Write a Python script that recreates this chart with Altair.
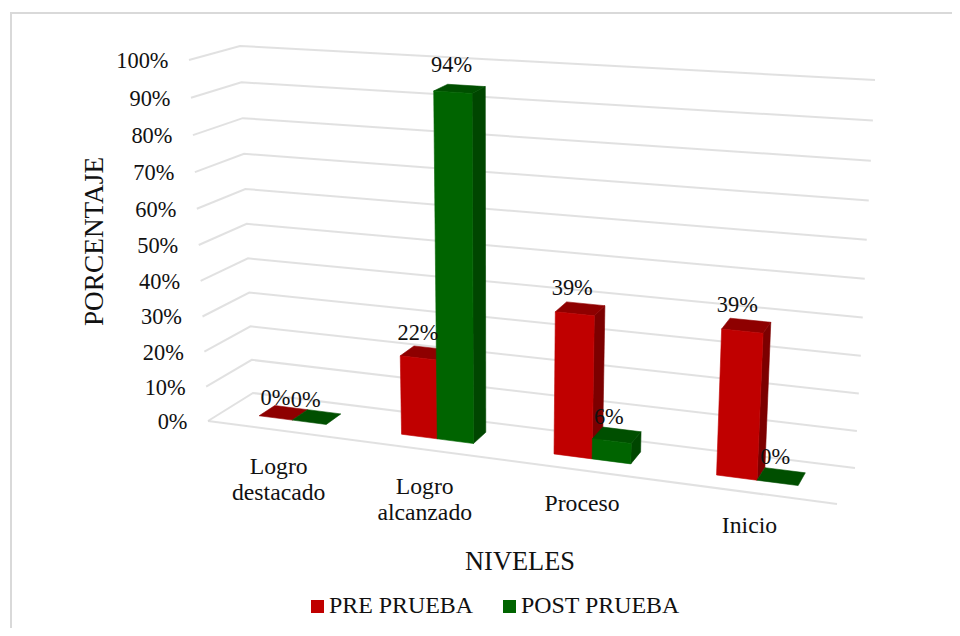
import altair as alt
import pandas as pd

# ---- data ----
CATEGORIES = [["Logro", "destacado"], ["Logro", "alcanzado"], ["Proceso"], ["Inicio"]]
PRE_VALUES = [0, 22.2, 38.9, 38.9]
POST_VALUES = [0, 94.4, 5.6, 0]
PRE_LABELS = ["0%", "22%", "39%", "39%"]
POST_LABELS = ["0%", "94%", "6%", "0%"]
TICKS = [0, 10, 20, 30, 40, 50, 60, 70, 80, 90, 100]
SERIES = ["PRE PRUEBA", "POST PRUEBA"]
PRE_COLORS = {"front": "#C00000", "top": "#8E0000", "side": "#7C0000"}
POST_COLORS = {"front": "#006400", "top": "#004F00", "side": "#004600"}
GRID = "#D9D9D9"
FONT = "Liberation Serif"

# small shifts of the value labels, as placed in the picture
PRE_NUDGE = [(-1, 4), (0, -1), (-1, -2), (-2, -2)]
POST_NUDGE = [(-4, 2), (-1, -5), (-1, 1), (1, -1)]

# ---- the 3-D box of the chart, as it is projected on the page ----
FLOOR = {"fl": (208, 421), "bl": (253, 393), "br": (855, 468), "fr": (837, 504)}
RISE = {"fl": (-19, -361), "bl": (-13, -347), "br": (20, -388), "fr": (22, -399)}
BAR_D0, BAR_D1 = 0.35, 0.71
BAR_W = 0.24


def mix(a, b, k):
    return (a[0] + (b[0] - a[0]) * k, a[1] + (b[1] - a[1]) * k)


def corner(tbl, u, d):
    return mix(mix(tbl["fl"], tbl["fr"], u), mix(tbl["bl"], tbl["br"], u), d)


def along(t):
    # category position (0..4) to share of the floor, wider to the right
    return t * (134 + 5 * t) / 616


def project(t, d, v):
    u = along(t)
    p = corner(FLOOR, u, d)
    r = corner(RISE, u, d)
    k = v / 100
    h = k * (0.95 + 0.05 * k)
    return p[0] + r[0] * h, p[1] + r[1] * h


# ---- grid ----
grid_rows = []
for v in TICKS:
    pts = [(0, 0, v), (0, 1, v), (4, 1, v)]
    for i, (t, d, val) in enumerate(pts):
        x, y = project(t, d, val)
        grid_rows.append({"id": f"g{v}", "i": i, "x": x, "y": y})
for i, t in enumerate([0, 4]):
    x, y = project(t, 0, 0)
    grid_rows.append({"id": "front", "i": i, "x": x, "y": y})
grid_df = pd.DataFrame(grid_rows)

# ---- bars ----
poly_rows = []
pid = 0


def add_face(points, color):
    global pid
    pid += 1
    closed = points + [points[0]]
    for i, (x, y) in enumerate(closed):
        poly_rows.append({"id": f"p{pid:03d}", "i": i, "x": x, "y": y, "c": color})


text_rows = []
for c in range(4):
    for s, (vals, labs, cols, nudge) in enumerate(
        [
            (PRE_VALUES, PRE_LABELS, PRE_COLORS, PRE_NUDGE),
            (POST_VALUES, POST_LABELS, POST_COLORS, POST_NUDGE),
        ]
    ):
        v = vals[c]
        t0 = c + 0.5 + (s - 1) * BAR_W
        t1 = t0 + BAR_W
        a = project(t0, BAR_D0, 0)
        b = project(t1, BAR_D0, 0)
        e = project(t1, BAR_D1, 0)
        at = project(t0, BAR_D0, v)
        bt = project(t1, BAR_D0, v)
        et = project(t1, BAR_D1, v)
        dt = project(t0, BAR_D1, v)
        if v > 0:
            add_face([b, e, et, bt], cols["side"])
        add_face([at, bt, et, dt], cols["top"])
        if v > 0:
            add_face([a, b, bt, at], cols["front"])
        cx, cy = project((t0 + t1) / 2, (BAR_D0 + BAR_D1) / 2, v)
        text_rows.append(
            {"x": cx - 7 + nudge[c][0], "y": cy - 19 + nudge[c][1], "t": labs[c], "fs": 22.4, "al": "center"}
        )
poly_df = pd.DataFrame(poly_rows)

# ---- texts tied to the axes ----
for v in TICKS:
    x, y = project(0, 0, v)
    text_rows.append({"x": x - 20.5, "y": y + 1, "t": f"{v}%", "fs": 22.4, "al": "right"})
for c, lines in enumerate(CATEGORIES):
    x, y = project(c + 0.5, 0, 0)
    first = 37 if len(lines) > 1 else 34
    for j, line in enumerate(lines):
        text_rows.append(
            {"x": x + (1 if c == 0 else 0), "y": y + first + 26 * j, "t": line, "fs": 23.7, "al": "center"}
        )
text_rows.append({"x": 520, "y": 562, "t": "NIVELES", "fs": 26.4, "al": "center"})
text_rows.append({"x": 329, "y": 606, "t": SERIES[0], "fs": 23.9, "al": "left"})
text_rows.append({"x": 521, "y": 606, "t": SERIES[1], "fs": 23.9, "al": "left"})
text_df = pd.DataFrame(text_rows)

X = alt.X("x:Q", axis=None, scale=alt.Scale(domain=[8, 952], nice=False, zero=False))
Y = alt.Y("y:Q", axis=None, scale=alt.Scale(domain=[628, 8], nice=False, zero=False))

frame = (
    alt.Chart(pd.DataFrame({"x": [11, 11, 952], "y": [628, 13, 13], "i": [0, 1, 2]}))
    .mark_line(color=GRID, strokeWidth=2)
    .encode(x=X, y=Y, order="i:Q")
)
grid = (
    alt.Chart(grid_df)
    .mark_line(color=GRID, strokeWidth=2, opacity=0.8)
    .encode(x=X, y=Y, detail="id:N", order="i:Q")
)
faces = (
    alt.Chart(poly_df)
    .mark_line(strokeWidth=0.6)
    .encode(
        x=X,
        y=Y,
        detail="id:N",
        order="i:Q",
        fill=alt.Fill("c:N", scale=None),
        stroke=alt.Stroke("c:N", scale=None),
    )
)
swatches = (
    alt.Chart(pd.DataFrame({"x": [317.5, 509.5], "y": [606.5, 606.5], "c": [PRE_COLORS["front"], POST_COLORS["front"]]}))
    .mark_square(size=169, opacity=1)
    .encode(x=X, y=Y, fill=alt.Fill("c:N", scale=None), stroke=alt.value(None))
)


def text_layer(align):
    return (
        alt.Chart(text_df[text_df["al"] == align])
        .mark_text(font=FONT, color="#111111", baseline="middle", align=align)
        .encode(x=X, y=Y, text="t:N", size=alt.Size("fs:Q", scale=None))
    )


ytitle = (
    alt.Chart(pd.DataFrame({"x": [95], "y": [241.5], "t": ["PORCENTAJE"]}))
    .mark_text(font=FONT, color="#111111", baseline="middle", align="center", angle=270, fontSize=27.3)
    .encode(x=X, y=Y, text="t:N")
)

chart = (
    alt.layer(frame, grid, faces, swatches, text_layer("center"), text_layer("right"), text_layer("left"), ytitle)
    .properties(width=944, height=620, padding=0, autosize="none", background="white")
    .configure_view(stroke=None)
)
chart.save("out.html", embed_options={"renderer": "svg", "actions": False})
